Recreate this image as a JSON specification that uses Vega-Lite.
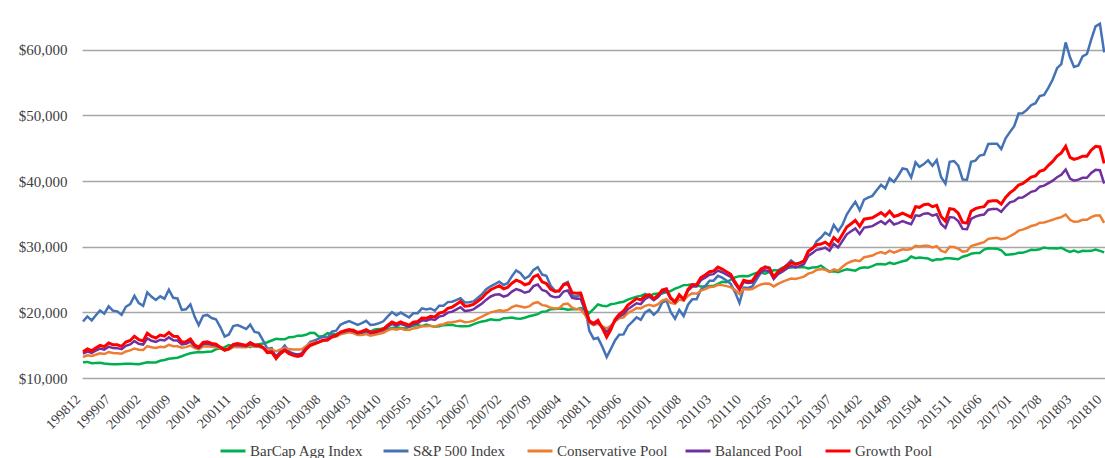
{
"$schema":"https://vega.github.io/schema/vega-lite/v6.json",
"width":1023,"height":361,
"autosize":{"type":"none"},
"padding":{"left":82,"top":17,"right":0,"bottom":80},
"background":"white",
"config":{"view":{"stroke":null},"font":"Liberation Serif",
 "legend":{"orient":"none","legendY":420,"direction":"horizontal","title":null,"symbolType":"stroke","symbolSize":625,"symbolStrokeWidth":3,"labelFont":"Liberation Serif","labelFontSize":15,"labelColor":"#404040","labelOffset":3,"padding":0,"labelLimit":300}},
"resolve":{"scale":{"color":"independent"},"legend":{"color":"independent"}},
"data":{"values":[
{"m":"1998-12","agg":12400,"sp":18600,"con":13200,"bal":13700,"gro":14000},
{"m":"1999-01","agg":12450,"sp":19380,"con":13450,"bal":14030,"gro":14420},
{"m":"1999-02","agg":12250,"sp":18780,"con":13350,"bal":13840,"gro":14160},
{"m":"1999-03","agg":12300,"sp":19530,"con":13550,"bal":14160,"gro":14560},
{"m":"1999-04","agg":12330,"sp":20290,"con":13750,"bal":14480,"gro":14960},
{"m":"1999-05","agg":12200,"sp":19800,"con":13650,"bal":14320,"gro":14770},
{"m":"1999-06","agg":12150,"sp":20910,"con":13950,"bal":14780,"gro":15340},
{"m":"1999-07","agg":12100,"sp":20260,"con":13800,"bal":14560,"gro":15070},
{"m":"1999-08","agg":12080,"sp":20160,"con":13780,"bal":14550,"gro":15060},
{"m":"1999-09","agg":12150,"sp":19620,"con":13700,"bal":14380,"gro":14830},
{"m":"1999-10","agg":12180,"sp":20850,"con":14050,"bal":14910,"gro":15480},
{"m":"1999-11","agg":12170,"sp":21270,"con":14200,"bal":15110,"gro":15720},
{"m":"1999-12","agg":12150,"sp":22520,"con":14500,"bal":15620,"gro":16360},
{"m":"2000-01","agg":12100,"sp":21400,"con":14300,"bal":15220,"gro":15830},
{"m":"2000-02","agg":12250,"sp":20990,"con":14280,"bal":15100,"gro":15640},
{"m":"2000-03","agg":12400,"sp":23050,"con":14850,"bal":16030,"gro":16820},
{"m":"2000-04","agg":12380,"sp":22360,"con":14700,"bal":15670,"gro":16320},
{"m":"2000-05","agg":12370,"sp":21890,"con":14580,"bal":15490,"gro":16090},
{"m":"2000-06","agg":12620,"sp":22440,"con":14750,"bal":15830,"gro":16550},
{"m":"2000-07","agg":12740,"sp":22080,"con":14700,"bal":15710,"gro":16380},
{"m":"2000-08","agg":12930,"sp":23450,"con":15050,"bal":16190,"gro":16950},
{"m":"2000-09","agg":13010,"sp":22210,"con":14850,"bal":15760,"gro":16370},
{"m":"2000-10","agg":13100,"sp":22120,"con":14820,"bal":15720,"gro":16320},
{"m":"2000-11","agg":13310,"sp":20370,"con":14600,"bal":15130,"gro":15490},
{"m":"2000-12","agg":13560,"sp":20470,"con":14700,"bal":15200,"gro":15540},
{"m":"2001-01","agg":13780,"sp":21210,"con":14950,"bal":15540,"gro":15930},
{"m":"2001-02","agg":13900,"sp":19280,"con":14550,"bal":14820,"gro":15000},
{"m":"2001-03","agg":13970,"sp":18070,"con":14350,"bal":14560,"gro":14700},
{"m":"2001-04","agg":13910,"sp":19480,"con":14800,"bal":15180,"gro":15430},
{"m":"2001-05","agg":14000,"sp":19610,"con":14850,"bal":15240,"gro":15500},
{"m":"2001-06","agg":14050,"sp":19140,"con":14750,"bal":15060,"gro":15270},
{"m":"2001-07","agg":14360,"sp":18950,"con":14700,"bal":14970,"gro":15150},
{"m":"2001-08","agg":14530,"sp":17760,"con":14500,"bal":14620,"gro":14700},
{"m":"2001-09","agg":14700,"sp":16320,"con":14200,"bal":14240,"gro":14260},
{"m":"2001-10","agg":15010,"sp":16630,"con":14350,"bal":14420,"gro":14470},
{"m":"2001-11","agg":14800,"sp":17910,"con":14700,"bal":14950,"gro":15120},
{"m":"2001-12","agg":14710,"sp":18070,"con":14750,"bal":15040,"gro":15240},
{"m":"2002-01","agg":14830,"sp":17800,"con":14700,"bal":14950,"gro":15120},
{"m":"2002-02","agg":14970,"sp":17460,"con":14680,"bal":14850,"gro":14970},
{"m":"2002-03","agg":14720,"sp":18120,"con":14900,"bal":15200,"gro":15400},
{"m":"2002-04","agg":15010,"sp":17020,"con":14750,"bal":14930,"gro":15050},
{"m":"2002-05","agg":15140,"sp":16880,"con":14750,"bal":14890,"gro":14980},
{"m":"2002-06","agg":15270,"sp":15680,"con":14550,"bal":14610,"gro":14650},
{"m":"2002-07","agg":15450,"sp":14460,"con":14300,"bal":13980,"gro":13840},
{"m":"2002-08","agg":15710,"sp":14560,"con":14350,"bal":14040,"gro":13910},
{"m":"2002-09","agg":15970,"sp":12970,"con":14050,"bal":13320,"gro":13000},
{"m":"2002-10","agg":15890,"sp":14110,"con":14350,"bal":13890,"gro":13690},
{"m":"2002-11","agg":15890,"sp":14940,"con":14550,"bal":14300,"gro":14200},
{"m":"2002-12","agg":16220,"sp":14060,"con":14400,"bal":13900,"gro":13690},
{"m":"2003-01","agg":16230,"sp":13690,"con":14350,"bal":13710,"gro":13440},
{"m":"2003-02","agg":16450,"sp":13490,"con":14330,"bal":13600,"gro":13290},
{"m":"2003-03","agg":16440,"sp":13620,"con":14380,"bal":13730,"gro":13450},
{"m":"2003-04","agg":16580,"sp":14740,"con":14850,"bal":14500,"gro":14350},
{"m":"2003-05","agg":16890,"sp":15520,"con":15300,"bal":15060,"gro":14950},
{"m":"2003-06","agg":16850,"sp":15720,"con":15450,"bal":15280,"gro":15200},
{"m":"2003-07","agg":16290,"sp":16010,"con":15500,"bal":15470,"gro":15450},
{"m":"2003-08","agg":16400,"sp":16310,"con":15650,"bal":15760,"gro":15800},
{"m":"2003-09","agg":16830,"sp":16130,"con":15800,"bal":15800,"gro":15800},
{"m":"2003-10","agg":16670,"sp":17050,"con":16150,"bal":16260,"gro":16300},
{"m":"2003-11","agg":16710,"sp":17200,"con":16300,"bal":16440,"gro":16500},
{"m":"2003-12","agg":16890,"sp":18100,"con":16650,"bal":16900,"gro":17000},
{"m":"2004-01","agg":17020,"sp":18420,"con":16800,"bal":17080,"gro":17200},
{"m":"2004-02","agg":17210,"sp":18680,"con":16950,"bal":17270,"gro":17400},
{"m":"2004-03","agg":17340,"sp":18400,"con":16850,"bal":17130,"gro":17250},
{"m":"2004-04","agg":16880,"sp":18100,"con":16550,"bal":16830,"gro":16950},
{"m":"2004-05","agg":16810,"sp":18360,"con":16550,"bal":16940,"gro":17100},
{"m":"2004-06","agg":16910,"sp":18710,"con":16700,"bal":17180,"gro":17380},
{"m":"2004-07","agg":17080,"sp":18090,"con":16450,"bal":16840,"gro":17000},
{"m":"2004-08","agg":17400,"sp":18160,"con":16600,"bal":16920,"gro":17050},
{"m":"2004-09","agg":17450,"sp":18360,"con":16750,"bal":17100,"gro":17250},
{"m":"2004-10","agg":17590,"sp":18640,"con":16900,"bal":17290,"gro":17450},
{"m":"2004-11","agg":17450,"sp":19380,"con":17250,"bal":17810,"gro":18050},
{"m":"2004-12","agg":17620,"sp":20040,"con":17500,"bal":18240,"gro":18550},
{"m":"2005-01","agg":17730,"sp":19560,"con":17350,"bal":17980,"gro":18250},
{"m":"2005-02","agg":17620,"sp":19970,"con":17550,"bal":18250,"gro":18550},
{"m":"2005-03","agg":17530,"sp":19610,"con":17350,"bal":18020,"gro":18300},
{"m":"2005-04","agg":17770,"sp":19240,"con":17300,"bal":17830,"gro":18050},
{"m":"2005-05","agg":17960,"sp":19860,"con":17550,"bal":18220,"gro":18500},
{"m":"2005-06","agg":18070,"sp":19880,"con":17650,"bal":18320,"gro":18600},
{"m":"2005-07","agg":17900,"sp":20610,"con":17900,"bal":18780,"gro":19150},
{"m":"2005-08","agg":18130,"sp":20430,"con":17900,"bal":18740,"gro":19100},
{"m":"2005-09","agg":17940,"sp":20590,"con":17950,"bal":18970,"gro":19400},
{"m":"2005-10","agg":17800,"sp":20240,"con":17800,"bal":18850,"gro":19300},
{"m":"2005-11","agg":17880,"sp":21010,"con":18100,"bal":19360,"gro":19900},
{"m":"2005-12","agg":18050,"sp":21010,"con":18200,"bal":19500,"gro":20050},
{"m":"2006-01","agg":18060,"sp":21560,"con":18450,"bal":19960,"gro":20600},
{"m":"2006-02","agg":18120,"sp":21620,"con":18500,"bal":20110,"gro":20800},
{"m":"2006-03","agg":17940,"sp":21880,"con":18600,"bal":20420,"gro":21200},
{"m":"2006-04","agg":17900,"sp":22160,"con":18750,"bal":20780,"gro":21650},
{"m":"2006-05","agg":17880,"sp":21520,"con":18500,"bal":20220,"gro":20950},
{"m":"2006-06","agg":17920,"sp":21540,"con":18550,"bal":20270,"gro":21000},
{"m":"2006-07","agg":18170,"sp":21670,"con":18700,"bal":20450,"gro":21200},
{"m":"2006-08","agg":18440,"sp":22190,"con":19050,"bal":20910,"gro":21700},
{"m":"2006-09","agg":18600,"sp":22770,"con":19350,"bal":21350,"gro":22200},
{"m":"2006-10","agg":18720,"sp":23520,"con":19700,"bal":21940,"gro":22900},
{"m":"2006-11","agg":18940,"sp":23970,"con":20000,"bal":22420,"gro":23450},
{"m":"2006-12","agg":18830,"sp":24300,"con":20150,"bal":22670,"gro":23750},
{"m":"2007-01","agg":18830,"sp":24670,"con":20300,"bal":22740,"gro":24050},
{"m":"2007-02","agg":19120,"sp":24170,"con":20200,"bal":22410,"gro":23600},
{"m":"2007-03","agg":19130,"sp":24440,"con":20350,"bal":22590,"gro":23800},
{"m":"2007-04","agg":19230,"sp":25510,"con":20800,"bal":23170,"gro":24450},
{"m":"2007-05","agg":19080,"sp":26400,"con":21050,"bal":23550,"gro":24900},
{"m":"2007-06","agg":19020,"sp":25960,"con":20900,"bal":23340,"gro":24650},
{"m":"2007-07","agg":19180,"sp":25150,"con":20750,"bal":22990,"gro":24200},
{"m":"2007-08","agg":19400,"sp":25530,"con":20900,"bal":23180,"gro":24400},
{"m":"2007-09","agg":19550,"sp":26470,"con":21400,"bal":24000,"gro":25400},
{"m":"2007-10","agg":19730,"sp":26890,"con":21550,"bal":24250,"gro":25700},
{"m":"2007-11","agg":20090,"sp":25760,"con":21100,"bal":23410,"gro":24650},
{"m":"2007-12","agg":20150,"sp":25580,"con":21000,"bal":23210,"gro":24400},
{"m":"2008-01","agg":20490,"sp":24050,"con":20700,"bal":22520,"gro":23500},
{"m":"2008-02","agg":20510,"sp":23280,"con":20600,"bal":22290,"gro":23200},
{"m":"2008-03","agg":20590,"sp":23180,"con":20650,"bal":22370,"gro":23300},
{"m":"2008-04","agg":20550,"sp":24320,"con":21250,"bal":23170,"gro":24200},
{"m":"2008-05","agg":20390,"sp":24630,"con":21350,"bal":23330,"gro":24400},
{"m":"2008-06","agg":20470,"sp":22560,"con":20700,"bal":22200,"gro":23000},
{"m":"2008-07","agg":20460,"sp":22380,"con":20500,"bal":22060,"gro":22900},
{"m":"2008-08","agg":20660,"sp":22670,"con":20450,"bal":22080,"gro":22950},
{"m":"2008-09","agg":20370,"sp":20650,"con":19600,"bal":20200,"gro":20800},
{"m":"2008-10","agg":19890,"sp":17180,"con":18400,"bal":18550,"gro":18700},
{"m":"2008-11","agg":20540,"sp":15950,"con":18050,"bal":18180,"gro":18300},
{"m":"2008-12","agg":21200,"sp":16120,"con":18250,"bal":18530,"gro":18800},
{"m":"2009-01","agg":21010,"sp":14770,"con":17850,"bal":17700,"gro":17600},
{"m":"2009-02","agg":20930,"sp":13190,"con":17550,"bal":17000,"gro":16250},
{"m":"2009-03","agg":21230,"sp":14350,"con":17950,"bal":17630,"gro":17300},
{"m":"2009-04","agg":21330,"sp":15720,"con":18600,"bal":18750,"gro":18900},
{"m":"2009-05","agg":21490,"sp":16600,"con":19100,"bal":19400,"gro":19700},
{"m":"2009-06","agg":21620,"sp":16640,"con":19250,"bal":19730,"gro":20200},
{"m":"2009-07","agg":21940,"sp":17900,"con":19900,"bal":20500,"gro":21100},
{"m":"2009-08","agg":22170,"sp":18550,"con":20250,"bal":20930,"gro":21600},
{"m":"2009-09","agg":22400,"sp":19230,"con":20650,"bal":21380,"gro":22100},
{"m":"2009-10","agg":22510,"sp":18870,"con":20600,"bal":21250,"gro":21900},
{"m":"2009-11","agg":22800,"sp":20000,"con":21000,"bal":22050,"gro":22500},
{"m":"2009-12","agg":22460,"sp":20380,"con":21150,"bal":22390,"gro":22700},
{"m":"2010-01","agg":22800,"sp":19650,"con":20950,"bal":21870,"gro":22100},
{"m":"2010-02","agg":22880,"sp":20260,"con":21250,"bal":22330,"gro":22600},
{"m":"2010-03","agg":22860,"sp":21470,"con":21800,"bal":23080,"gro":23400},
{"m":"2010-04","agg":23080,"sp":21820,"con":22000,"bal":23280,"gro":23600},
{"m":"2010-05","agg":23250,"sp":20070,"con":21450,"bal":22050,"gro":22200},
{"m":"2010-06","agg":23610,"sp":19030,"con":21300,"bal":21540,"gro":21600},
{"m":"2010-07","agg":23850,"sp":20360,"con":21950,"bal":22550,"gro":22700},
{"m":"2010-08","agg":24150,"sp":19440,"con":21800,"bal":21960,"gro":22000},
{"m":"2010-09","agg":24180,"sp":21170,"con":22550,"bal":23310,"gro":23500},
{"m":"2010-10","agg":24270,"sp":21980,"con":22900,"bal":23940,"gro":24200},
{"m":"2010-11","agg":24130,"sp":21980,"con":22850,"bal":23930,"gro":24200},
{"m":"2010-12","agg":23930,"sp":23450,"con":23300,"bal":24900,"gro":25300},
{"m":"2011-01","agg":23950,"sp":24010,"con":23550,"bal":25270,"gro":25700},
{"m":"2011-02","agg":24020,"sp":24830,"con":23850,"bal":25730,"gro":26200},
{"m":"2011-03","agg":24030,"sp":24830,"con":23900,"bal":25820,"gro":26300},
{"m":"2011-04","agg":24340,"sp":25570,"con":24200,"bal":26360,"gro":26900},
{"m":"2011-05","agg":24650,"sp":25290,"con":24150,"bal":26110,"gro":26600},
{"m":"2011-06","agg":24580,"sp":24860,"con":24000,"bal":25760,"gro":26200},
{"m":"2011-07","agg":24970,"sp":24360,"con":23850,"bal":25410,"gro":25800},
{"m":"2011-08","agg":25340,"sp":23050,"con":23400,"bal":24360,"gro":24600},
{"m":"2011-09","agg":25520,"sp":21430,"con":22800,"bal":23440,"gro":23600},
{"m":"2011-10","agg":25540,"sp":23770,"con":23550,"bal":24630,"gro":24900},
{"m":"2011-11","agg":25520,"sp":23720,"con":23500,"bal":24460,"gro":24700},
{"m":"2011-12","agg":25800,"sp":23960,"con":23550,"bal":24550,"gro":24800},
{"m":"2012-01","agg":26020,"sp":25040,"con":23950,"bal":25430,"gro":25800},
{"m":"2012-02","agg":26020,"sp":26110,"con":24250,"bal":26130,"gro":26600},
{"m":"2012-03","agg":25880,"sp":26970,"con":24400,"bal":26400,"gro":26900},
{"m":"2012-04","agg":26160,"sp":26810,"con":24350,"bal":26230,"gro":26700},
{"m":"2012-05","agg":26400,"sp":25200,"con":23950,"bal":25110,"gro":25400},
{"m":"2012-06","agg":26410,"sp":26230,"con":24350,"bal":25830,"gro":26200},
{"m":"2012-07","agg":26780,"sp":26600,"con":24650,"bal":26210,"gro":26600},
{"m":"2012-08","agg":26800,"sp":27210,"con":24900,"bal":26660,"gro":27100},
{"m":"2012-09","agg":26840,"sp":27920,"con":25150,"bal":27110,"gro":27600},
{"m":"2012-10","agg":26890,"sp":27420,"con":25100,"bal":26860,"gro":27300},
{"m":"2012-11","agg":26930,"sp":27580,"con":25250,"bal":27050,"gro":27500},
{"m":"2012-12","agg":26890,"sp":27830,"con":25450,"bal":27330,"gro":27800},
{"m":"2013-01","agg":26700,"sp":29280,"con":25900,"bal":28600,"gro":29300},
{"m":"2013-02","agg":26840,"sp":29690,"con":26100,"bal":29060,"gro":29800},
{"m":"2013-03","agg":26860,"sp":30820,"con":26450,"bal":29530,"gro":30300},
{"m":"2013-04","agg":27130,"sp":31400,"con":26600,"bal":29640,"gro":30400},
{"m":"2013-05","agg":26640,"sp":32130,"con":26500,"bal":29860,"gro":30700},
{"m":"2013-06","agg":26230,"sp":31710,"con":26150,"bal":29390,"gro":30200},
{"m":"2013-07","agg":26260,"sp":33330,"con":26550,"bal":30430,"gro":31400},
{"m":"2013-08","agg":26120,"sp":32360,"con":26350,"bal":29910,"gro":30800},
{"m":"2013-09","agg":26360,"sp":33360,"con":26950,"bal":30910,"gro":31900},
{"m":"2013-10","agg":26570,"sp":34900,"con":27450,"bal":31890,"gro":33000},
{"m":"2013-11","agg":26470,"sp":35950,"con":27750,"bal":32350,"gro":33500},
{"m":"2013-12","agg":26350,"sp":36850,"con":27950,"bal":32790,"gro":34000},
{"m":"2014-01","agg":26720,"sp":35560,"con":27800,"bal":31930,"gro":33100},
{"m":"2014-02","agg":26860,"sp":37190,"con":28400,"bal":32920,"gro":34200},
{"m":"2014-03","agg":26810,"sp":37490,"con":28500,"bal":33020,"gro":34300},
{"m":"2014-04","agg":27040,"sp":37750,"con":28650,"bal":33140,"gro":34400},
{"m":"2014-05","agg":27340,"sp":38620,"con":29000,"bal":33520,"gro":34800},
{"m":"2014-06","agg":27350,"sp":39430,"con":29200,"bal":33880,"gro":35200},
{"m":"2014-07","agg":27280,"sp":38880,"con":28950,"bal":33440,"gro":34700},
{"m":"2014-08","agg":27570,"sp":40430,"con":29400,"bal":34080,"gro":35400},
{"m":"2014-09","agg":27390,"sp":39870,"con":29100,"bal":33390,"gro":34600},
{"m":"2014-10","agg":27580,"sp":40820,"con":29350,"bal":33600,"gro":34800},
{"m":"2014-11","agg":27780,"sp":41920,"con":29600,"bal":33890,"gro":35100},
{"m":"2014-12","agg":27930,"sp":41800,"con":29550,"bal":33650,"gro":34800},
{"m":"2015-01","agg":28510,"sp":40540,"con":29650,"bal":33430,"gro":34500},
{"m":"2015-02","agg":28240,"sp":42850,"con":30150,"bal":34790,"gro":36100},
{"m":"2015-03","agg":28370,"sp":42170,"con":30050,"bal":34690,"gro":36000},
{"m":"2015-04","agg":28270,"sp":42590,"con":30150,"bal":35030,"gro":36400},
{"m":"2015-05","agg":28200,"sp":43150,"con":30150,"bal":35100,"gro":36500},
{"m":"2015-06","agg":27890,"sp":42330,"con":29900,"bal":34740,"gro":36100},
{"m":"2015-07","agg":28080,"sp":43210,"con":30100,"bal":34940,"gro":36300},
{"m":"2015-08","agg":28040,"sp":40620,"con":29400,"bal":33460,"gro":34600},
{"m":"2015-09","agg":28230,"sp":39610,"con":29150,"bal":32860,"gro":33900},
{"m":"2015-10","agg":28230,"sp":42930,"con":30000,"bal":34520,"gro":35800},
{"m":"2015-11","agg":28160,"sp":43060,"con":29950,"bal":34440,"gro":35700},
{"m":"2015-12","agg":28080,"sp":42370,"con":29700,"bal":33910,"gro":35100},
{"m":"2016-01","agg":28470,"sp":40250,"con":29250,"bal":32720,"gro":33700},
{"m":"2016-02","agg":28660,"sp":40210,"con":29350,"bal":32670,"gro":33600},
{"m":"2016-03","agg":28930,"sp":42940,"con":30100,"bal":34230,"gro":35400},
{"m":"2016-04","agg":29040,"sp":43120,"con":30300,"bal":34590,"gro":35800},
{"m":"2016-05","agg":29050,"sp":43890,"con":30500,"bal":34790,"gro":36000},
{"m":"2016-06","agg":29570,"sp":44020,"con":30700,"bal":34910,"gro":36100},
{"m":"2016-07","agg":29760,"sp":45650,"con":31200,"bal":35650,"gro":36900},
{"m":"2016-08","agg":29730,"sp":45700,"con":31300,"bal":35750,"gro":37000},
{"m":"2016-09","agg":29710,"sp":45700,"con":31350,"bal":35760,"gro":37000},
{"m":"2016-10","agg":29470,"sp":44870,"con":31150,"bal":35320,"gro":36500},
{"m":"2016-11","agg":28790,"sp":46530,"con":31250,"bal":36130,"gro":37500},
{"m":"2016-12","agg":28830,"sp":47460,"con":31600,"bal":36750,"gro":38200},
{"m":"2017-01","agg":28880,"sp":48360,"con":31950,"bal":36950,"gro":38700},
{"m":"2017-02","agg":29080,"sp":50290,"con":32450,"bal":37450,"gro":39400},
{"m":"2017-03","agg":29070,"sp":50340,"con":32600,"bal":37500,"gro":39600},
{"m":"2017-04","agg":29290,"sp":50850,"con":32850,"bal":37930,"gro":40100},
{"m":"2017-05","agg":29520,"sp":51560,"con":33150,"bal":38370,"gro":40600},
{"m":"2017-06","agg":29490,"sp":51870,"con":33300,"bal":38550,"gro":40800},
{"m":"2017-07","agg":29620,"sp":52960,"con":33650,"bal":39150,"gro":41500},
{"m":"2017-08","agg":29890,"sp":53120,"con":33700,"bal":39300,"gro":41700},
{"m":"2017-09","agg":29750,"sp":54230,"con":33900,"bal":39680,"gro":42400},
{"m":"2017-10","agg":29770,"sp":55480,"con":34100,"bal":40060,"gro":43000},
{"m":"2017-11","agg":29730,"sp":57200,"con":34350,"bal":40590,"gro":43800},
{"m":"2017-12","agg":29850,"sp":57830,"con":34500,"bal":40970,"gro":44300},
{"m":"2018-01","agg":29490,"sp":61120,"con":34900,"bal":41760,"gro":45300},
{"m":"2018-02","agg":29210,"sp":58860,"con":34100,"bal":40370,"gro":43600},
{"m":"2018-03","agg":29400,"sp":57390,"con":33800,"bal":40070,"gro":43300},
{"m":"2018-04","agg":29180,"sp":57620,"con":33850,"bal":40220,"gro":43500},
{"m":"2018-05","agg":29390,"sp":59000,"con":34100,"bal":40500,"gro":43800},
{"m":"2018-06","agg":29360,"sp":59360,"con":34100,"bal":40500,"gro":43800},
{"m":"2018-07","agg":29370,"sp":61550,"con":34500,"bal":41230,"gro":44700},
{"m":"2018-08","agg":29560,"sp":63580,"con":34750,"bal":41710,"gro":45300},
{"m":"2018-09","agg":29370,"sp":63960,"con":34750,"bal":41650,"gro":45200},
{"m":"2018-10","agg":29140,"sp":59610,"con":33650,"bal":39620,"gro":42700}
]},
"encoding":{
 "x":{"field":"m","type":"temporal",
  "scale":{"type":"utc","domain":[{"year":1998,"month":11,"date":24,"utc":true},{"year":2018,"month":10,"date":7,"utc":true}]},
  "axis":{"title":null,"format":"%Y%m","labelAngle":-45,"labelAlign":"right","labelBaseline":"middle","labelFont":"Liberation Serif","labelFontSize":14,"labelColor":"#404040","ticks":false,"domain":false,"grid":false,"labelPadding":19,"labelOffset":-5,"labelOverlap":false,"labelFlush":false,
   "values":[
    {"year":1998,"month":12,"date":1,"utc":true},{"year":1999,"month":7,"date":1,"utc":true},{"year":2000,"month":2,"date":1,"utc":true},{"year":2000,"month":9,"date":1,"utc":true},{"year":2001,"month":4,"date":1,"utc":true},{"year":2001,"month":11,"date":1,"utc":true},{"year":2002,"month":6,"date":1,"utc":true},{"year":2003,"month":1,"date":1,"utc":true},{"year":2003,"month":8,"date":1,"utc":true},{"year":2004,"month":3,"date":1,"utc":true},{"year":2004,"month":10,"date":1,"utc":true},{"year":2005,"month":5,"date":1,"utc":true},{"year":2005,"month":12,"date":1,"utc":true},{"year":2006,"month":7,"date":1,"utc":true},{"year":2007,"month":2,"date":1,"utc":true},{"year":2007,"month":9,"date":1,"utc":true},{"year":2008,"month":4,"date":1,"utc":true},{"year":2008,"month":11,"date":1,"utc":true},{"year":2009,"month":6,"date":1,"utc":true},{"year":2010,"month":1,"date":1,"utc":true},{"year":2010,"month":8,"date":1,"utc":true},{"year":2011,"month":3,"date":1,"utc":true},{"year":2011,"month":10,"date":1,"utc":true},{"year":2012,"month":5,"date":1,"utc":true},{"year":2012,"month":12,"date":1,"utc":true},{"year":2013,"month":7,"date":1,"utc":true},{"year":2014,"month":2,"date":1,"utc":true},{"year":2014,"month":9,"date":1,"utc":true},{"year":2015,"month":4,"date":1,"utc":true},{"year":2015,"month":11,"date":1,"utc":true},{"year":2016,"month":6,"date":1,"utc":true},{"year":2017,"month":1,"date":1,"utc":true},{"year":2017,"month":8,"date":1,"utc":true},{"year":2018,"month":3,"date":1,"utc":true},{"year":2018,"month":10,"date":1,"utc":true}
   ]}}
},
"layer":[
 {"mark":{"type":"line","strokeWidth":2.5},
  "encoding":{
   "y":{"field":"agg","type":"quantitative",
    "scale":{"domain":[10000,65000],"nice":false,"zero":false},
    "axis":{"title":null,"values":[10000,20000,30000,40000,50000,60000],"format":"$,.0f","grid":true,"gridColor":"#a6a6a6","gridWidth":1.4,"domain":false,"ticks":false,"labelPadding":15,"labelFont":"Liberation Serif","labelFontSize":15,"labelColor":"#404040"}},
   "color":{"datum":"BarCap Agg Index","type":"nominal","scale":{"domain":["BarCap Agg Index"],"range":["#00B050"]},"legend":{"legendX":137}}}},
 {"mark":{"type":"line","strokeWidth":2.5},
  "encoding":{"y":{"field":"sp","type":"quantitative"},"color":{"datum":"S&P 500 Index","type":"nominal","scale":{"domain":["S&P 500 Index"],"range":["#4472B4"]},"legend":{"legendX":300}}}},
 {"mark":{"type":"line","strokeWidth":2.5},
  "encoding":{"y":{"field":"con","type":"quantitative"},"color":{"datum":"Conservative Pool","type":"nominal","scale":{"domain":["Conservative Pool"],"range":["#ED7D31"]},"legend":{"legendX":444}}}},
 {"mark":{"type":"line","strokeWidth":2.5},
  "encoding":{"y":{"field":"bal","type":"quantitative"},"color":{"datum":"Balanced Pool","type":"nominal","scale":{"domain":["Balanced Pool"],"range":["#7030A0"]},"legend":{"legendX":602}}}},
 {"mark":{"type":"line","strokeWidth":3},
  "encoding":{"y":{"field":"gro","type":"quantitative"},"color":{"datum":"Growth Pool","type":"nominal","scale":{"domain":["Growth Pool"],"range":["#FF0000"]},"legend":{"legendX":742}}}}
]
}
